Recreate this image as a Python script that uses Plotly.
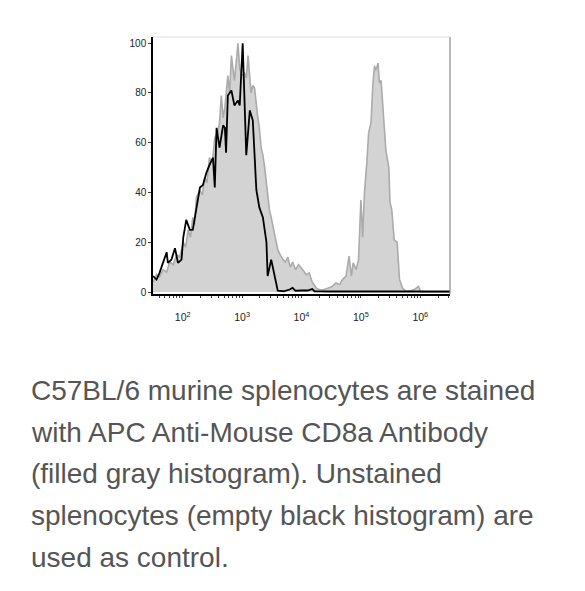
import numpy as np
import plotly.graph_objects as go

# log10 fluorescence position and % of max
gray_log = [1.50, 1.56, 1.61, 1.67, 1.73, 1.78, 1.84, 1.90, 1.95, 2.01, 2.05, 2.09, 2.13, 2.17,
            2.20, 2.23, 2.29, 2.33, 2.37, 2.41, 2.45, 2.50, 2.54, 2.59, 2.62, 2.65, 2.68, 2.71,
            2.76, 2.79, 2.82, 2.87, 2.90, 2.93, 2.96, 2.99, 3.04, 3.07, 3.10, 3.15, 3.18, 3.21,
            3.26, 3.29, 3.32, 3.35, 3.38, 3.43, 3.46, 3.49, 3.52, 3.55, 3.60, 3.64, 3.69, 3.73,
            3.77, 3.81, 3.85, 3.90, 3.95, 4.02, 4.08, 4.13, 4.18, 4.25, 4.30, 4.36, 4.45, 4.50,
            4.58, 4.64, 4.69, 4.75, 4.80, 4.84, 4.87, 4.92, 4.96, 5.00, 5.03, 5.06, 5.10, 5.13,
            5.17, 5.20, 5.23, 5.25, 5.29, 5.31, 5.34, 5.37, 5.40, 5.42, 5.47, 5.49, 5.52, 5.56,
            5.61, 5.65, 5.70, 5.76, 5.83, 5.90, 5.97, 6.01, 6.10, 6.30, 6.50]
gray_pct = [4, 7, 6, 9, 8, 12, 11, 15, 14, 20, 18, 25, 22, 30,
            27, 38, 41, 39, 46, 44, 54, 52, 62, 64, 68, 79, 70, 74,
            87, 80, 95, 85, 92, 100, 90, 87, 88, 86, 95, 80, 83, 82,
            71, 66, 58, 55, 50, 38, 33, 30, 26, 22, 17, 15, 13, 12,
            14, 10, 12, 9, 11, 9, 7, 7.7, 4, 1.5, 1, 0.8, 1.5, 2,
            3.6, 3, 5, 6.4, 14.4, 6.4, 11.7, 9, 13, 37, 22, 40, 52, 64,
            68, 83, 91, 89, 92, 84, 85, 75, 65, 57, 50, 36, 33, 21,
            20, 5, 1.6, 0.3, 0.5, 1, 2.2, 0, 0, 0, 0]

black_log = [1.50, 1.56, 1.61, 1.67, 1.73, 1.75, 1.81, 1.87, 1.92, 1.98, 2.01, 2.06, 2.12, 2.17,
             2.23, 2.29, 2.34, 2.40, 2.45, 2.51, 2.54, 2.57, 2.62, 2.68, 2.71, 2.73, 2.76, 2.82,
             2.87, 2.93, 2.96, 3.01, 3.07, 3.13, 3.18, 3.21, 3.24, 3.29, 3.35, 3.41, 3.43, 3.49,
             3.55, 3.60, 3.70, 3.80, 3.85, 3.90, 4.00, 4.10, 4.18, 4.22, 4.50, 5.00, 6.50]
black_pct = [6.4, 5, 7.7, 11.7, 16, 11.7, 13, 17.6, 11.7, 13, 22, 29, 25, 25,
             34, 42, 43, 48, 51, 54, 42, 66, 58, 67, 66, 56, 79, 81,
             75, 77, 75, 100, 55, 73, 69, 55, 41, 34, 30, 20, 6.4, 13,
             6.4, 0.5, 0.3, 1, 1.7, 0.5, 0.6, 0.6, 1.2, 0.3, 0.2, 0.2, 0.2]

y_ticks = [0, 20, 40, 60, 80, 100]
decades = [2, 3, 4, 5, 6]

caption = ["C57BL/6 murine splenocytes are stained",
           "with APC Anti-Mouse CD8a Antibody",
           "(filled gray histogram). Unstained",
           "splenocytes (empty black histogram) are",
           "used as control."]

# page is drawn with the browser's 8px body margin
PAD = 8
W, H = 585, 591
L, R, T, B = 153, 450, 37, 294

fig = go.Figure()
fig.add_trace(go.Scatter(x=10 ** np.array(gray_log), y=gray_pct, mode="lines",
                         fill="tozeroy", fillcolor="#d3d3d3",
                         line=dict(color="#ababab", width=1.6), hoverinfo="skip"))
fig.add_trace(go.Scatter(x=10 ** np.array(black_log), y=black_pct, mode="lines",
                         line=dict(color="black", width=1.8), hoverinfo="skip"))

# ticks at 1..9 x 10^n, labels only on decades
tv, tt = [], []
for d in range(1, 7):
    for m in range(1, 10):
        v = m * 10 ** d
        if 1.5 <= np.log10(v) <= 6.5:
            tv.append(v)
            tt.append("10<sup>%d</sup>" % d if (m == 1 and d in decades) else "")

fig.update_xaxes(type="log", range=[1.5, 6.5], tickvals=tv, ticktext=tt,
                 ticks="outside", ticklen=2, tickcolor="#444", tickwidth=1,
                 showline=True, linecolor="black", linewidth=1.5,
                 showgrid=False, zeroline=False, ticklabelstandoff=11,
                 tickfont=dict(family="Liberation Sans", size=10.5, color="#222"))
fig.update_yaxes(range=[-0.8, 102.5], tickvals=y_ticks, ticks="outside", ticklen=3,
                 tickcolor="#444", showline=True, linecolor="black", linewidth=1.5,
                 showgrid=False, zeroline=False,
                 tickfont=dict(family="Liberation Sans", size=10, color="#222"))

def px_x(p):
    return (p - L) / (R - L)

def px_y(p):
    return (B - p) / (B - T)

# right and top frame
fig.add_shape(type="line", xref="paper", yref="paper", x0=1, x1=1, y0=0, y1=1,
              line=dict(color="#8a8a8a", width=1.2))
fig.add_shape(type="line", xref="paper", yref="paper", x0=0, x1=1, y0=1, y1=1,
              line=dict(color="#dddddd", width=1))

baselines = [400, 441.7, 483.3, 525, 566.7]
for line, bl in zip(caption, baselines):
    fig.add_annotation(text=line, xref="paper", yref="paper", x=px_x(29),
                       y=px_y(bl + 8), xanchor="left", yanchor="bottom",
                       showarrow=False,
                       font=dict(family="Liberation Sans", size=28, color="#555555"))

fig.update_layout(width=W - PAD, height=H - PAD, showlegend=False,
                  margin=dict(l=L - PAD, r=W - R, t=T - PAD, b=H - B),
                  paper_bgcolor="white", plot_bgcolor="white")

fig.write_html("out.html")
